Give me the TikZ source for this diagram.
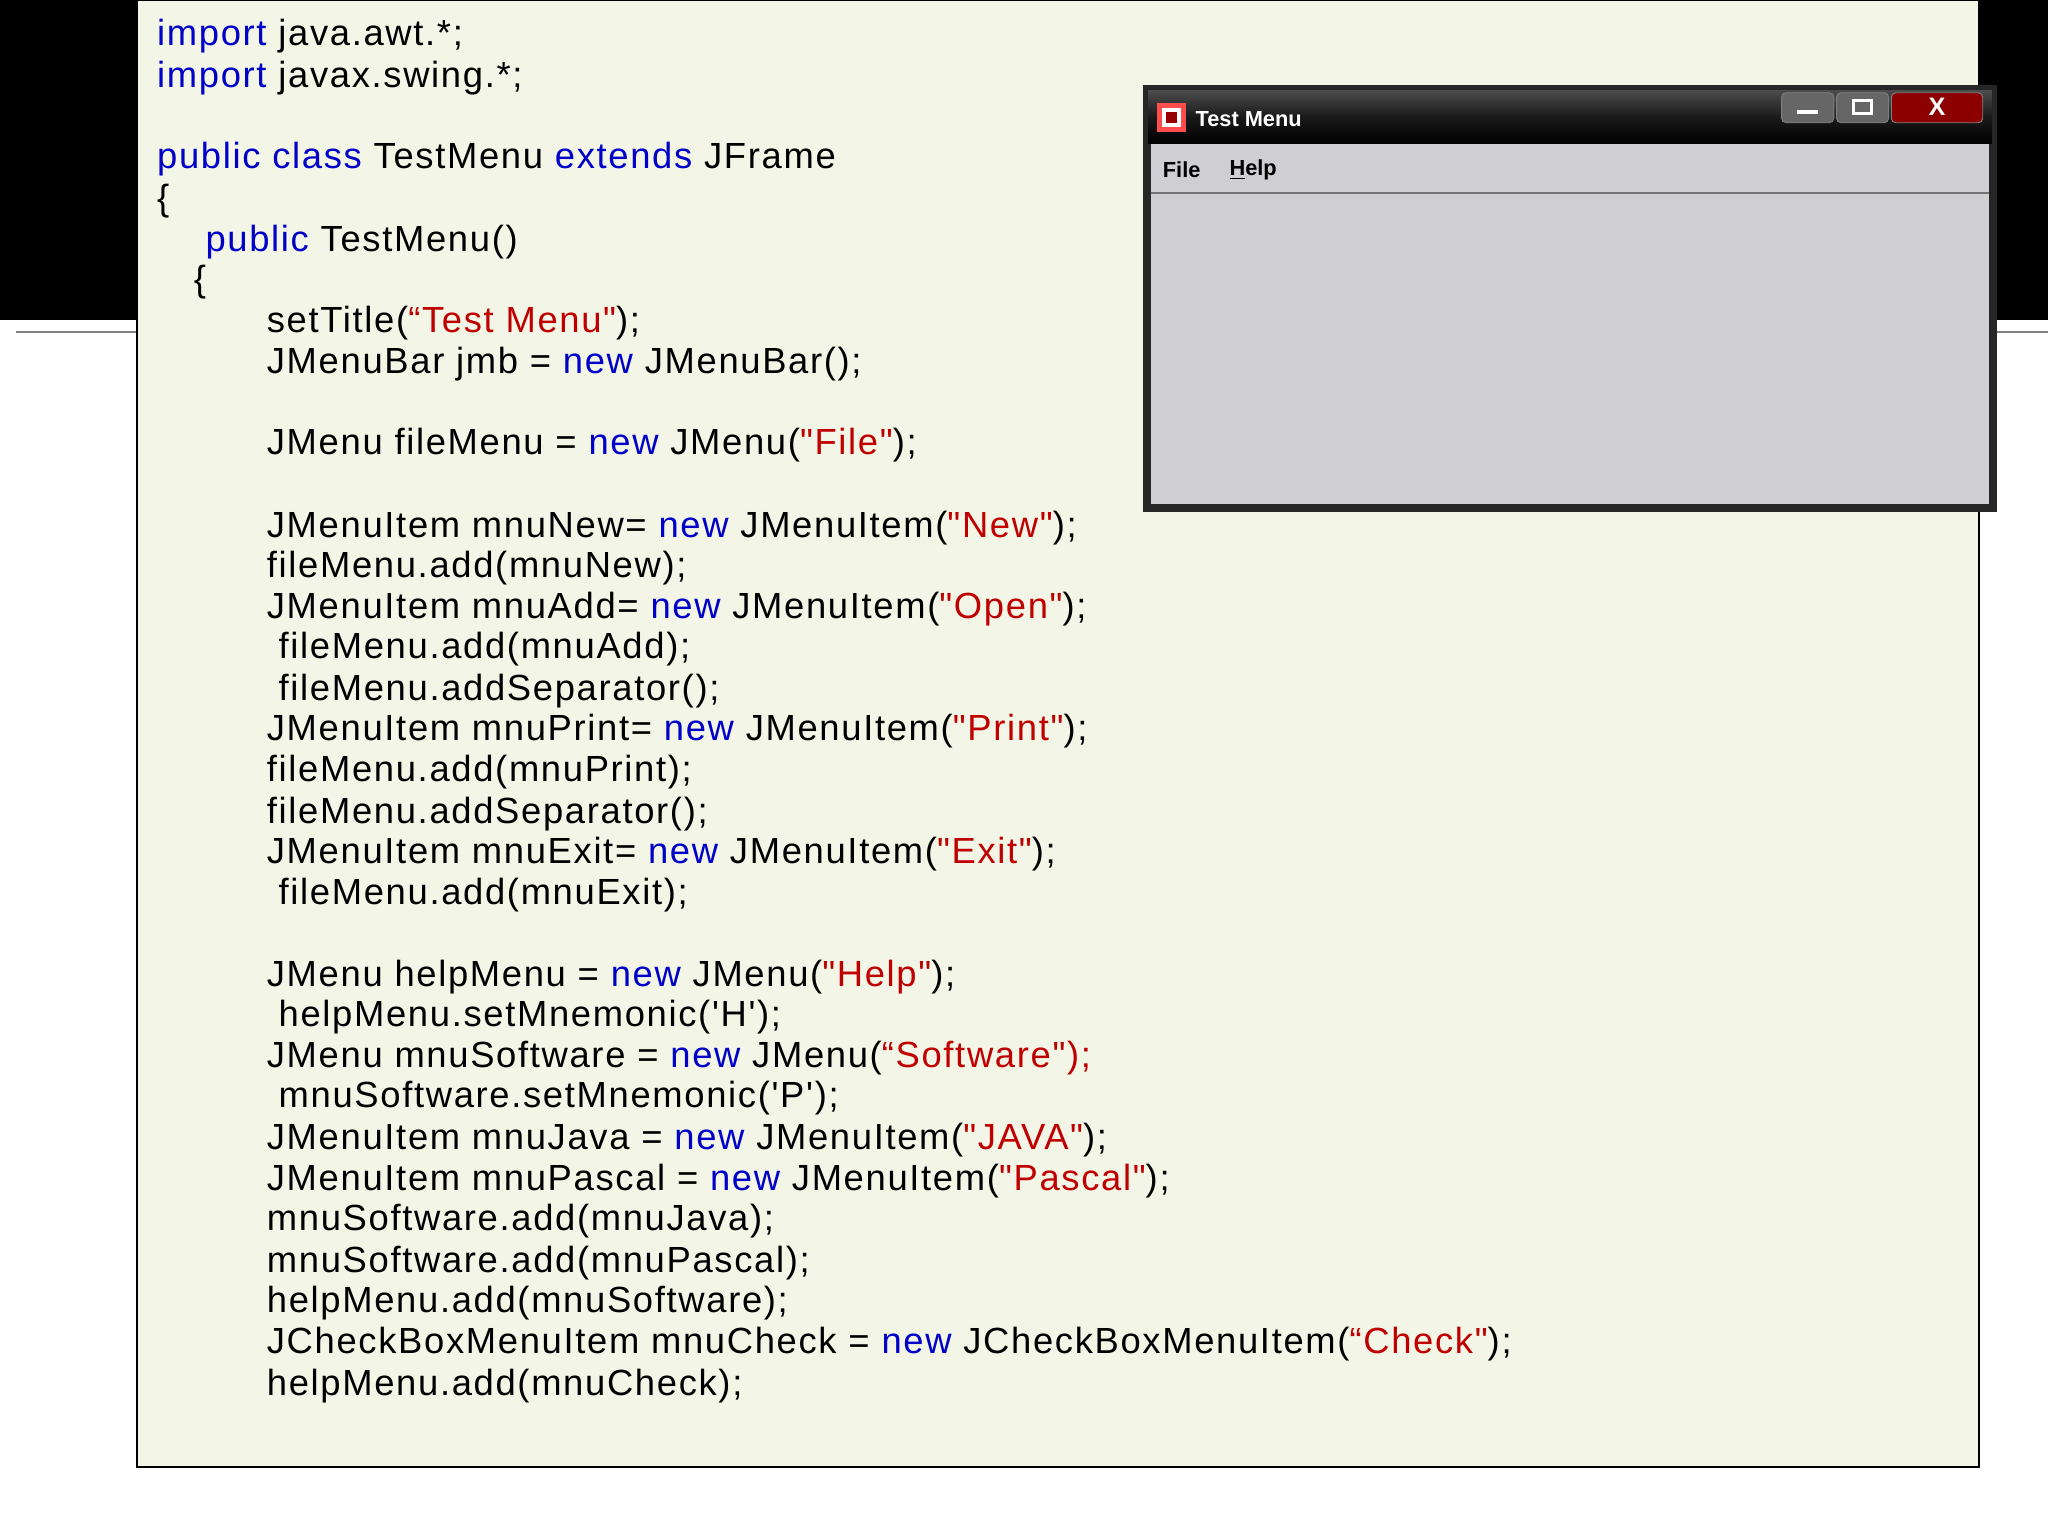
\documentclass[tikz,border=0pt]{standalone}
\usepackage{fontspec}
\setmainfont{Liberation Sans}
\newfontfamily\codefont[LetterSpace=4.6]{Liberation Sans}
\definecolor{kw}{HTML}{0000C8}
\definecolor{st}{HTML}{C00000}
\definecolor{panel}{HTML}{F3F6E7}
\definecolor{wingray}{HTML}{CFCED2}
\newcommand{\kw}[1]{\textcolor{kw}{#1}}
\newcommand{\st}[1]{\textcolor{st}{#1}}
\tikzset{code/.style={anchor=west,inner sep=0,yshift=-0.06cm,font=\codefont\fontsize{15.85pt}{18pt}\selectfont}}
\begin{document}
\begin{tikzpicture}[x=0.02cm,y=-0.02cm]
\useasboundingbox (0,0) rectangle (1568,1176);
\fill[white] (0,0) rectangle (1568,1176);
\fill[black] (0,0) rectangle (105,245);
\fill[black] (1515,0) rectangle (1568,245);
\draw[gray,line width=1pt] (12,254) -- (105,254);
\draw[gray,line width=1pt] (1515,254) -- (1568,254);
\draw[fill=panel,line width=0.8pt] (105,0) rectangle (1515,1123);
% code
\node[code] (l1) at (120,25) {\kw{import} java.awt.*;};
\node[code] (l2) at (120,57) {\kw{import} javax.swing.*;};
\node[code] (l3) at (120,119) {\kw{public class} TestMenu \kw{extends} JFrame};
\node[code] (l4) at (120,151) {\{};
\node[code] (l5) at (157,182) {\kw{public} TestMenu()};
\node[code] (l6) at (148,213) {\{};
\node[code] (l7) at (204,244) {setTitle(\st{“Test Menu"});};
\node[code] (l8) at (204,276) {JMenuBar jmb = \kw{new} JMenuBar();};
\node[code] (l9) at (204,338) {JMenu fileMenu = \kw{new} JMenu(\st{"File"});};
\node[code] (l10) at (204,401) {JMenuItem mnuNew= \kw{new} JMenuItem(\st{"New"});};
\node[code] (l11) at (204,432) {fileMenu.add(mnuNew);};
\node[code] (l12) at (204,463) {JMenuItem mnuAdd= \kw{new} JMenuItem(\st{"Open"});};
\node[code] (l13) at (213,494) {fileMenu.add(mnuAdd);};
\node[code] (l14) at (213,526) {fileMenu.addSeparator();};
\node[code] (l15) at (204,557) {JMenuItem mnuPrint= \kw{new} JMenuItem(\st{"Print"});};
\node[code] (l16) at (204,588) {fileMenu.add(mnuPrint);};
\node[code] (l17) at (204,620) {fileMenu.addSeparator();};
\node[code] (l18) at (204,651) {JMenuItem mnuExit= \kw{new} JMenuItem(\st{"Exit"});};
\node[code] (l19) at (213,682) {fileMenu.add(mnuExit);};
\node[code] (l20) at (204,745) {JMenu helpMenu = \kw{new} JMenu(\st{"Help"});};
\node[code] (l21) at (213,776) {helpMenu.setMnemonic('H');};
\node[code] (l22) at (204,807) {JMenu mnuSoftware = \kw{new} JMenu(\st{“Software");}};
\node[code] (l23) at (213,838) {mnuSoftware.setMnemonic('P');};
\node[code] (l24) at (204,870) {JMenuItem mnuJava = \kw{new} JMenuItem(\st{"JAVA"});};
\node[code] (l25) at (204,901) {JMenuItem mnuPascal = \kw{new} JMenuItem(\st{"Pascal"});};
\node[code] (l26) at (204,932) {mnuSoftware.add(mnuJava);};
\node[code] (l27) at (204,964) {mnuSoftware.add(mnuPascal);};
\node[code] (l28) at (204,995) {helpMenu.add(mnuSoftware);};
\node[code] (l29) at (204,1026) {JCheckBoxMenuItem mnuCheck = \kw{new} JCheckBoxMenuItem(\st{“Check"});};
\node[code] (l30) at (204,1058) {helpMenu.add(mnuCheck);};
% window
\fill[black!85] (875,65) rectangle (1529,392);
\shade[top color=black!70,bottom color=black,middle color=black!90] (879,69) rectangle (1525,110);
\fill[wingray] (881,110) rectangle (1523,386);
\draw[black!55,line width=0.8pt] (881,148) -- (1523,148);
\node[anchor=west,inner sep=0,text=white,font=\bfseries\fontsize{9.5pt}{11pt}\selectfont] (title) at (915,91) {Test Menu};
\fill[red!70!white] (886,79) rectangle (908,101);
\fill[white] (890,83) rectangle (904,97);
\fill[red!60!black] (893,86) rectangle (901,94);
\node[anchor=west,inner sep=0,font=\bfseries\fontsize{9.5pt}{11pt}\selectfont] (file) at (890,130) {File};
\node[anchor=west,inner sep=0,font=\bfseries\fontsize{9.5pt}{11pt}\selectfont] (help) at (941,130) {\underline{H}elp};
\draw[rounded corners=2,fill=black!60,draw=gray] (1364,71) rectangle (1404,94);
\draw[rounded corners=2,fill=black!60,draw=gray] (1406,71) rectangle (1446,94);
\draw[rounded corners=2,fill=red!55!black,draw=gray] (1448,71) rectangle (1518,94);
\fill[white] (1376,84) rectangle (1392,87);
\draw[white,line width=1.5pt] (1419,77) rectangle (1433,87);
\node[text=white,font=\bfseries\fontsize{11pt}{12pt}\selectfont,inner sep=0] (x) at (1483,82) {X};
\end{tikzpicture}
\end{document}
